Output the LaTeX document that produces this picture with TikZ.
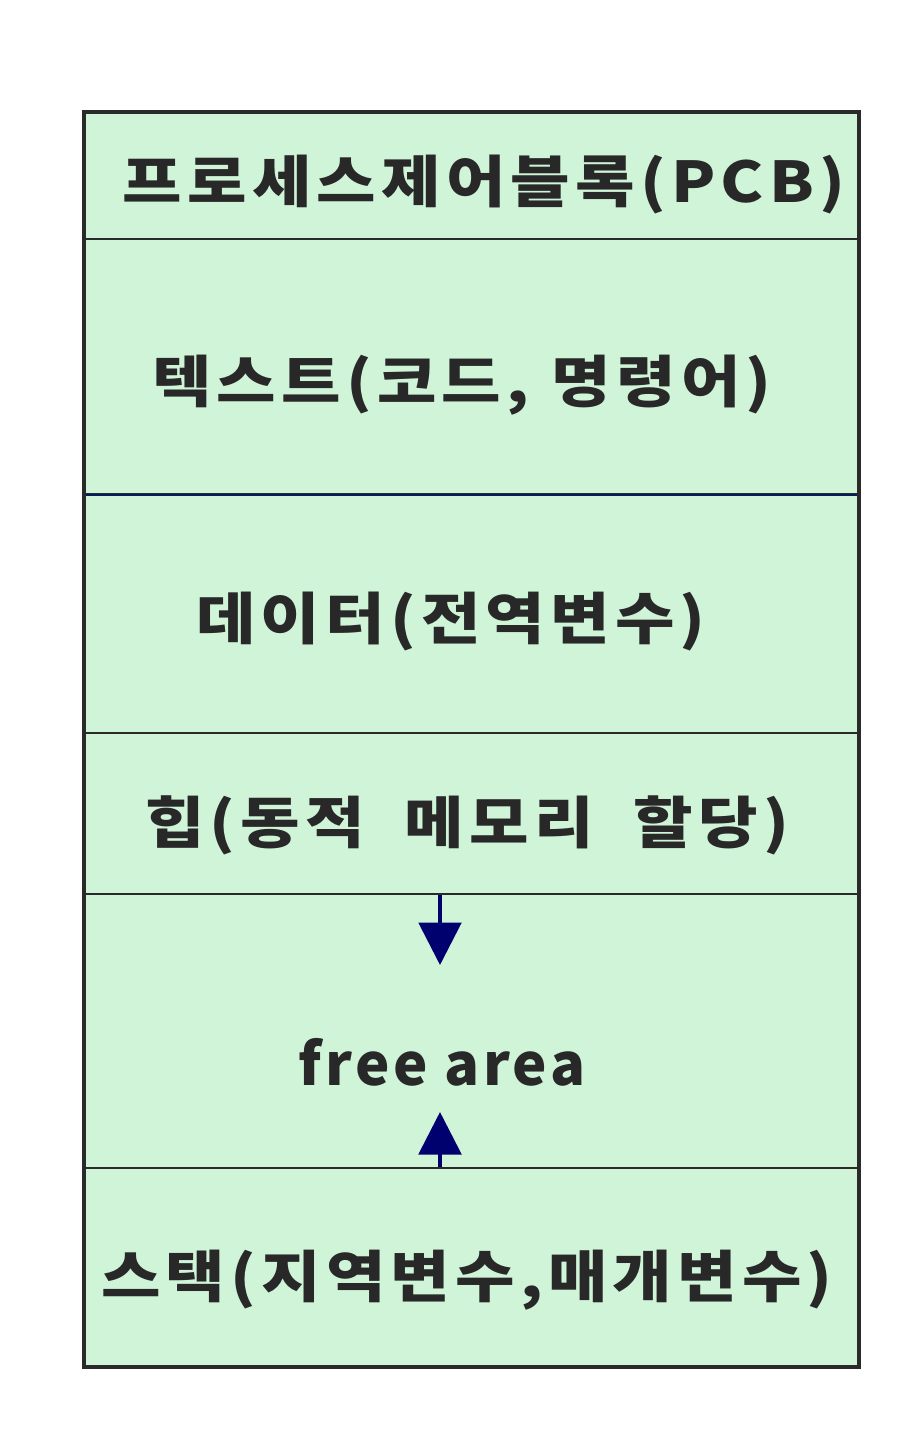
\documentclass[tikz,border=0pt]{standalone}
\usepackage{graphicx}
\usepackage{fontspec}
\setmainfont{Noto Sans CJK KR}
\usetikzlibrary{arrows.meta,positioning}
\definecolor{memFill}{RGB}{208,244,216}
\definecolor{memLine}{RGB}{42,42,42}
\definecolor{memInk}{RGB}{40,40,40}
\definecolor{memNavy}{RGB}{0,0,110}
\definecolor{memBlue}{RGB}{5,30,90}
\newcommand{\wideKr}[1]{\scalebox{1.15}[1]{#1}}

\begin{document}
\begin{tikzpicture}[x=0.02cm,y=-0.02cm,
      seg/.style={rectangle,fill=memFill,draw=memLine,line width=1.1pt,
                  minimum width=15.5cm,inner sep=0pt,anchor=north west},
      lbl/.style={text=memInk,inner sep=0pt,
                  font=\fontsize{32}{38}\selectfont\bfseries\addfontfeatures{LetterSpace=8}},
      lat/.style={lbl,font=\fontsize{33}{38}\selectfont\bfseries\addfontfeatures{LetterSpace=6}},
      ar/.style={-{Triangle[length=8.5mm,width=8.5mm]},memNavy,line width=2.2pt}]

    \useasboundingbox (0,0) rectangle (919,1440);

    % memory segments, top to bottom
    \node[seg,minimum height=2.56cm] (pcb) at (82,110) {};
    \node[seg,minimum height=5.10cm] (text) at (82,238) {};
    \node[seg,minimum height=4.78cm] (data) at (82,493) {};
    \node[seg,minimum height=3.22cm] (heap) at (82,732) {};
    \node[seg,minimum height=5.48cm] (free) at (82,893) {};
    \node[seg,minimum height=3.96cm] (stack) at (82,1167) {};
    \draw[memBlue,line width=1.4pt] (text.south west) -- (text.south east);
    \node[draw=memLine,line width=2.3pt,inner sep=0pt,minimum width=15.5cm,
          minimum height=25.1cm,anchor=north west] (frame) at (82,110) {};

    \node[lbl] (pcbL) at (484,185) {\wideKr{프로세스제어블록(PCB)}};
    \node[lbl] (textL) at (462,385) {\wideKr{텍스트(코드,\hspace{0.35em}명령어)}};
    \node[lbl] (dataL) at (451,622) {\wideKr{데이터(전역변수)}};
    \node[lbl] (heapL) at (467,825) {\wideKr{힙(동적\hspace{0.62em}메모리\hspace{0.62em}할당)}};
    \node[lat] (freeL) at (442,1062) {free area};
    \node[lbl] (stackL) at (467,1280) {\wideKr{스택(지역변수,매개변수)}};

    \coordinate (heapTip) at (440,965);
    \coordinate (stackTip) at (440,1112);
    \draw[ar] (heap.south -| heapTip) -- (heapTip);
    \draw[ar] (stack.north -| stackTip) -- (stackTip);
  \end{tikzpicture}
\end{document}
